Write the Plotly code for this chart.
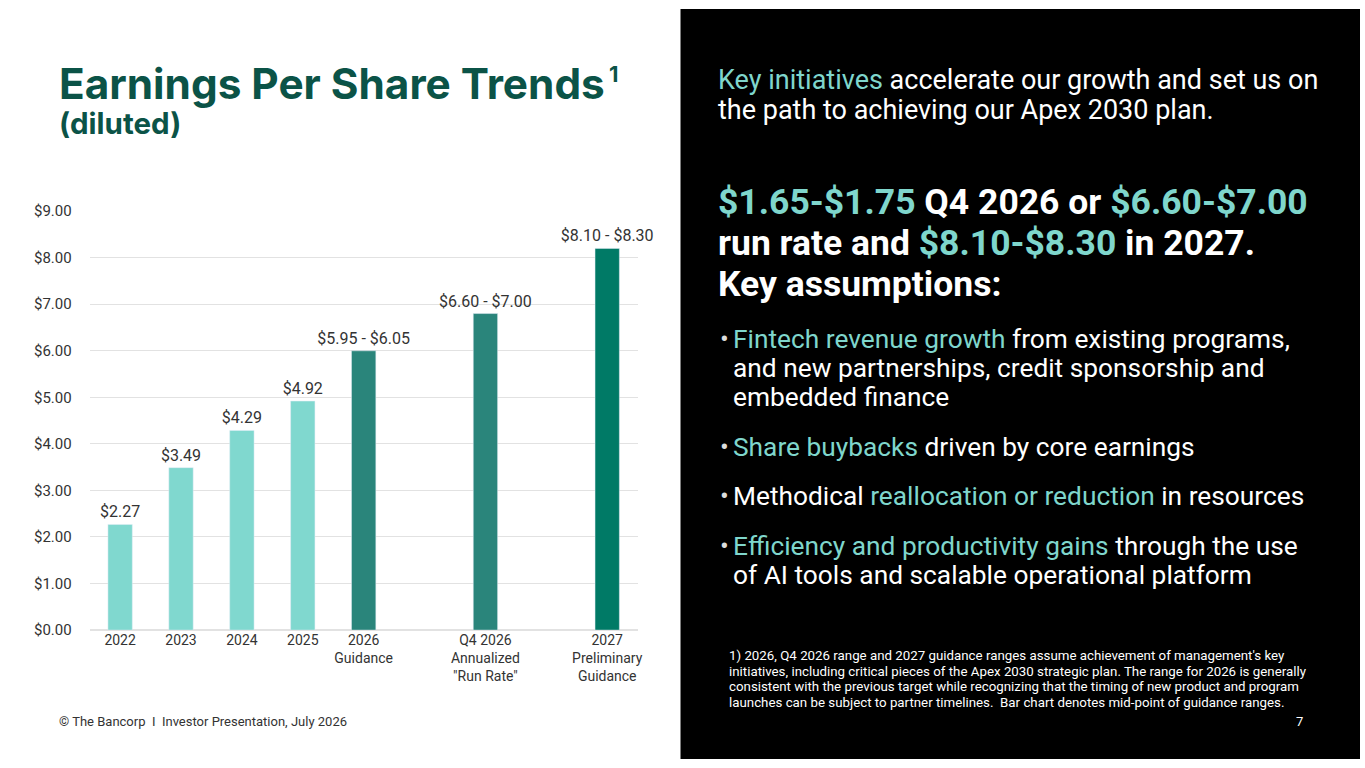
import plotly.graph_objects as go

categories = ["2022", "2023", "2024", "2025", "2026 Guidance", "gap1",
              "Q4 2026 Run Rate", "gap2", "2027 Preliminary Guidance"]
tick_labels = ["2022", "2023", "2024", "2025", "2026<br>Guidance", "",
               "Q4 2026<br>Annualized<br>\"Run Rate\"", "", "2027<br>Preliminary<br>Guidance"]
eps_values = [2.27, 3.49, 4.29, 4.92, 6.00, None, 6.80, None, 8.20]
value_labels = ["$2.27", "$3.49", "$4.29", "$4.92", "$5.95 - $6.05", "",
                "$6.60 - $7.00", "", "$8.10 - $8.30"]
bar_colors = ["#80d8cf", "#80d8cf", "#80d8cf", "#80d8cf", "#2a857b", "#2a857b",
              "#2a857b", "#007a66", "#007a66"]
y_ticks = [0, 1, 2, 3, 4, 5, 6, 7, 8, 9]

W, H = 1365, 768
FONT = "Roboto"
HL = "#7fd6cc"

fig = go.Figure()
fig.add_trace(go.Bar(
    x=categories, y=eps_values, marker_color=bar_colors,
    text=value_labels, textposition="outside", cliponaxis=False,
    constraintext="none",
    textfont=dict(family=FONT, size=16, color="#333333"),
    width=0.4, hoverinfo="skip",
))

fig.update_layout(
    width=W, height=H, margin=dict(l=0, r=0, t=0, b=0),
    paper_bgcolor="white", plot_bgcolor="rgba(0,0,0,0)",
    showlegend=False,
    font=dict(family=FONT, color="#333333"),
    xaxis=dict(domain=[90 / W, 640 / W], type="category",
               categoryorder="array", categoryarray=categories,
               tickvals=categories, ticktext=tick_labels,
               tickfont=dict(size=14, color="#333333"),
               showgrid=False, showline=False, ticks="", ticklen=0),
    yaxis=dict(domain=[(H - 636) / H, (H - 207) / H], range=[0, 9],
               tickvals=y_ticks, ticktext=[f"${v:.2f}" for v in y_ticks],
               tickfont=dict(size=15, color="#333333"),
               gridcolor="#e2e2e2", gridwidth=1, zeroline=True,
               zerolinecolor="#e2e2e2", showline=False, ticks="", ticklabelstandoff=17),
)

# dark right panel
fig.add_shape(type="rect", xref="paper", yref="paper", x0=683 / W, x1=1, y0=0, y1=1,
              fillcolor="black", line_width=0, layer="below")

def ann(text, x, y, size, color="white", xanchor="left", family=FONT, yanchor="middle"):
    fig.add_annotation(text=text, x=x / W, y=1 - y / H, xref="paper", yref="paper",
                       xanchor=xanchor, yanchor=yanchor, showarrow=False, align="left",
                       font=dict(family=family, size=size, color=color))

# title
ann("<b>Earnings Per Share Trends</b>", 57, 76, 42.3, color="#0b5347", family="Inter")
ann("<b>1</b>", 609, 67, 22, color="#0b5347", family="Inter")
ann("<b>(diluted)</b>", 57, 117, 29.5, color="#0b5347", family="Inter")
ann("© The Bancorp  I  Investor Presentation, July 2026", 57, 730, 13, color="#333333")

# right text
ann(f"<span style='color:{HL}'>Key initiatives</span> accelerate our growth and set us on", 719, 73, 27)
ann("the path to achieving our Apex 2030 plan.", 719, 103, 27)

ann(f"<b><span style='color:{HL}'>$1.65-$1.75</span> Q4 2026 or <span style='color:{HL}'>$6.60-$7.00</span></b>", 719, 198, 35.5)
ann(f"<b>run rate and <span style='color:{HL}'>$8.10-$8.30</span> in 2027.</b>", 719, 240, 35.5)
ann("<b>Key assumptions:</b>", 719, 282, 35.5)

bullet_lines = [
    (f"<span style='color:{HL}'>Fintech revenue growth</span> from existing programs,", 338, True),
    ("and new partnerships, credit sponsorship and", 368, False),
    ("embedded finance", 397, False),
    (f"<span style='color:{HL}'>Share buybacks</span> driven by core earnings", 448, True),
    (f"Methodical <span style='color:{HL}'>reallocation or reduction</span> in resources", 499, True),
    (f"<span style='color:{HL}'>Efficiency and productivity gains</span> through the use", 550, True),
    ("of AI tools and scalable operational platform", 580, False),
]
for t, y, has_bullet in bullet_lines:
    if has_bullet:
        ann("•", 721, y, 26, color="#dddddd")
    ann(t, 734, y, 26.3)

foot = [
    ("1) 2026, Q4 2026 range and 2027 guidance ranges assume achievement of management's key", 662),
    ("initiatives, including critical pieces of the Apex 2030 strategic plan. The range for 2026 is generally", 678),
    ("consistent with the previous target while recognizing that the timing of new product and program", 694),
    ("launches can be subject to partner timelines.  Bar chart denotes mid-point of guidance ranges.", 710),
]
for t, y in foot:
    ann(t, 730, y, 13.3)
ann("7", 1310, 730, 13, xanchor="right")

fig.write_html("out.html", config={"displayModeBar": False},
               default_width="1365px", default_height="768px",
               post_script="document.documentElement.style.margin='0';"
                           "document.documentElement.style.overflow='hidden';"
                           "document.body.style.margin='0';document.body.style.padding='0';"
                           "document.body.style.overflow='hidden';"
                           "var d=document.getElementById('{plot_id}');"
                           "d.style.position='fixed';d.style.left='0px';d.style.top='0px';")
